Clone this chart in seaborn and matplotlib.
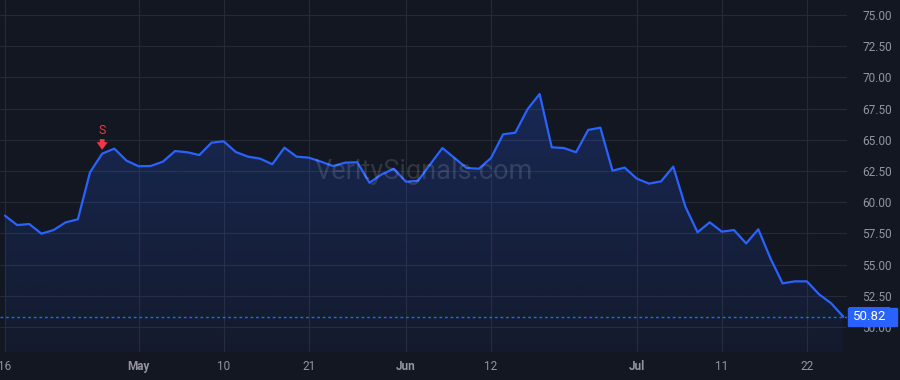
import numpy as np
import pandas as pd
import matplotlib
matplotlib.use("Agg")
import matplotlib.pyplot as plt
import seaborn as sns

# ---- data ----
holidays = ["2024-05-27", "2024-06-19", "2024-07-04"]
dates = pd.bdate_range("2024-04-16", "2024-07-25", freq="C", holidays=holidays)
close = [
    58.92, 58.17, 58.25, 57.48, 57.77, 58.39, 58.63, 62.40, 63.89, 64.29,
    63.33, 62.88, 62.90, 63.25, 64.10, 64.00, 63.78, 64.77, 64.88, 64.02,
    63.65, 63.49, 63.04, 64.37, 63.65, 63.57, 63.25, 62.90, 63.17, 63.20,
    61.56, 62.23, 62.68, 61.64, 61.72, 63.04, 64.34, 63.54, 62.74, 62.68,
    63.54, 65.44, 65.57, 67.44, 68.67, 64.40, 64.34, 64.00, 65.79, 65.97,
    62.53, 62.77, 61.89, 61.49, 61.67, 62.85, 59.64, 57.59, 58.39, 57.64,
    57.77, 56.70, 57.83, 55.50, 53.50, 53.66, 53.66, 52.62, 51.90, 50.82,
]
tick_dates = ["2024-04-16", "2024-05-01", "2024-05-10", "2024-05-21", "2024-06-03",
              "2024-06-12", "2024-07-01", "2024-07-11", "2024-07-22"]
tick_labels = ["16", "May", "10", "21", "Jun", "12", "Jul", "11", "22"]
bold_labels = {"May", "Jun", "Jul"}
y_ticks = [50.0, 52.5, 55.0, 57.5, 60.0, 62.5, 65.0, 67.5, 70.0, 72.5, 75.0]
signal_date = "2024-04-26"
signal_text = "S"
last_value = close[-1]
watermark = "VeritySignals.com"

# ---- style ----
BG = "#131722"
GRID = "#262a36"
TXT = "#92959e"
LINE = "#2962ff"
RED = "#f23645"

sns.set_theme(style="dark")
plt.rcParams["font.family"] = ["Roboto", "DejaVu Sans"]

df = pd.DataFrame({"idx": np.arange(len(dates)), "close": close})

fig = plt.figure(figsize=(9, 3.8), dpi=100, facecolor=BG)
ax = fig.add_axes([0, 28 / 380, 847 / 900, 352 / 380])
ax.set_facecolor(BG)

ymin, ymax = 48.0, 76.2
xmin, xmax = -0.41, 69.3
ax.set_xlim(xmin, xmax)
ax.set_ylim(ymin, ymax)

# gradient fill under line
fill = ax.fill_between(df["idx"], df["close"], ymin, color="none", lw=0)
grad = np.zeros((256, 1, 4))
r, g, b = matplotlib.colors.to_rgb(LINE)
grad[:, 0, 0] = r
grad[:, 0, 1] = g
grad[:, 0, 2] = b
grad[:, 0, 3] = np.linspace(0.30, 0.05, 256)
im = ax.imshow(grad, extent=[xmin, xmax, ymin, ymax], origin="upper",
               aspect="auto", zorder=1)
path = fill.get_paths()[0]
im.set_clip_path(path, transform=ax.transData)

sns.lineplot(data=df, x="idx", y="close", ax=ax, color=LINE, lw=1.6, zorder=3)

# last value line
ax.axhline(last_value, color=LINE, lw=1, ls=(0, (2, 2)), zorder=2)
ax.text(1.0 + 6 / 847, last_value, f"{last_value:.2f}",
        transform=ax.get_yaxis_transform(), ha="left", va="center",
        color="white", fontsize=9.5, zorder=5, clip_on=False,
        bbox=dict(boxstyle="square,pad=0.28", fc=LINE, ec="none"))
ax.add_patch(plt.Rectangle((1.0 + 1 / 847, last_value - 0.72), 49 / 847, 1.44,
                           transform=ax.get_yaxis_transform(), color=LINE,
                           clip_on=False, zorder=4))

# grid & ticks
pos = [dates.get_loc(pd.Timestamp(d)) for d in tick_dates]
ax.set_xticks(pos)
ax.set_xticklabels(tick_labels)
for lab in ax.get_xticklabels():
    if lab.get_text() in bold_labels:
        lab.set_fontweight("bold")
ax.set_yticks(y_ticks)
ax.set_yticklabels([f"{v:.2f}" for v in y_ticks])
ax.yaxis.tick_right()
ax.tick_params(axis="y", length=0, pad=11, labelsize=8.5, colors=TXT)
ax.tick_params(axis="x", length=0, pad=6, labelsize=8.5, colors=TXT)
ax.grid(True, color=GRID, lw=0.8)
ax.set_axisbelow(True)
for s in ax.spines.values():
    s.set_visible(False)
ax.set_xlabel("")
ax.set_ylabel("")

# signal marker
si = dates.get_loc(pd.Timestamp(signal_date))
ax.text(si, 65.75, signal_text, color=RED, ha="center", va="center", fontsize=9, zorder=5)
ax.annotate("", xy=(si, 64.2), xytext=(si, 65.05),
            arrowprops=dict(arrowstyle="simple,head_width=0.8,head_length=0.55,tail_width=0.35",
                            color=RED, lw=0, mutation_scale=10, shrinkA=0, shrinkB=0),
            zorder=5)

# watermark
ax.text(0.5, 0.512, watermark, transform=ax.transAxes, ha="center", va="center",
        fontsize=19.5, color="white", alpha=0.13, zorder=4)

fig.savefig("out.png", dpi=100, facecolor=BG)
